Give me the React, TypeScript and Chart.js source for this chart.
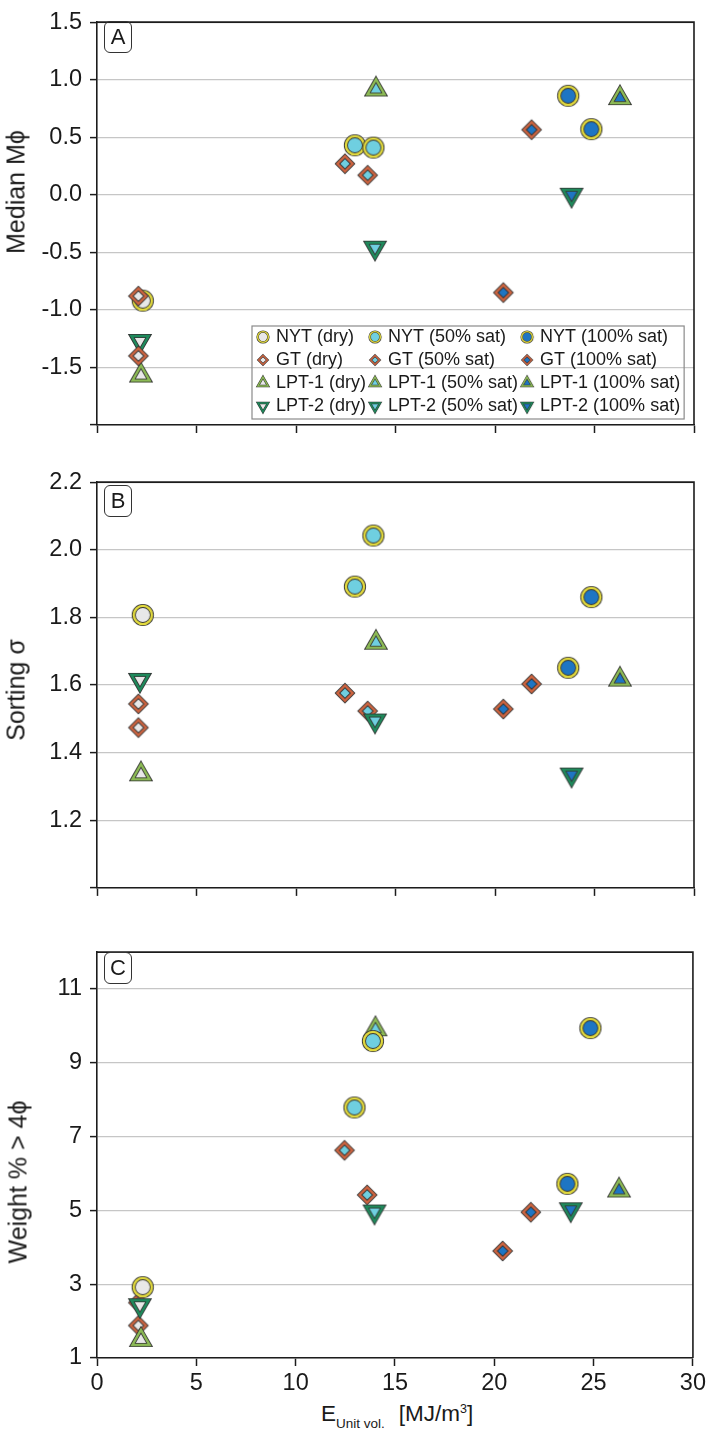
import React, { useEffect, useRef } from 'react';
import { Chart, registerables } from 'chart.js';

Chart.register(...registerables);

const FONT = "'Liberation Sans', Arial, Helvetica, sans-serif";
const TEXT = '#1a1a1a';
const AXIS = '#1c1c1c';
const GRID = '#c6c6c6';
const OUTLINE = '#333333';

// ---------- data ----------
const SERIES_LABELS = [
  'NYT (dry)', 'GT (dry)', 'LPT-1 (dry)', 'LPT-2 (dry)',
  'NYT (50% sat)', 'GT (50% sat)', 'LPT-1 (50% sat)', 'LPT-2 (50% sat)',
  'NYT (100% sat)', 'GT (100% sat)', 'LPT-1 (100% sat)', 'LPT-2 (100% sat)',
];

// E_Unit vol. [MJ/m3] of each sample, per series
const SERIES_X = [
  [2.3], [2.08, 2.08], [2.21], [2.16],
  [12.96, 13.89], [12.46, 13.6], [14.02], [13.97],
  [23.68, 24.84], [20.42, 21.84], [26.28], [23.85],
];

// Panel A: Median Mphi
const MEDIAN_PHI = [
  [-0.92], [-0.88, -1.4], [-1.57], [-1.27],
  [0.43, 0.41], [0.27, 0.17], [0.915], [-0.46],
  [0.86, 0.57], [-0.85, 0.565], [0.84], [0.0],
];

// Panel B: Sorting sigma
const SORTING = [
  [1.807], [1.544, 1.474], [1.336], [1.615],
  [1.891, 2.042], [1.576, 1.523], [1.725], [1.495],
  [1.651, 1.86], [1.529, 1.603], [1.616], [1.335],
];

// Panel C: Weight % > 4phi
const WEIGHT_FINE = [
  [2.92], [2.5, 1.88], [1.49], [2.43],
  [7.79, 9.59], [6.63, 5.42], [9.91], [4.97],
  [5.72, 9.94], [3.9, 4.95], [5.54], [5.03],
];

const X_TICKS = [0, 5, 10, 15, 20, 25, 30];
const X_TICK_LABELS = ['0', '5', '10', '15', '20', '25', '30'];
const MEDIAN_TICKS = [-2, -1.5, -1, -0.5, 0, 0.5, 1, 1.5];
const MEDIAN_TICK_LABELS = ['', '-1.5', '-1.0', '-0.5', '0.0', '0.5', '1.0', '1.5'];
const SORTING_TICKS = [1.0, 1.2, 1.4, 1.6, 1.8, 2.0, 2.2];
const SORTING_TICK_LABELS = ['', '1.2', '1.4', '1.6', '1.8', '2.0', '2.2'];
const WEIGHT_TICKS = [1, 3, 5, 7, 9, 11];
const WEIGHT_TICK_LABELS = ['1', '3', '5', '7', '9', '11'];

// ---------- styles ----------
const SHAPE_BY_MATERIAL = ['circle', 'diamond', 'triangle', 'triangleDown'];
const RING_BY_MATERIAL = ['#e2da3e', '#cd6440', '#8cba55', '#1f8a5c'];
const FILL_BY_STATE = ['#e8e8e8', '#6fcfe0', '#1e75c3'];

const markerCache = new Map<string, HTMLCanvasElement>();
function marker(i: number, s: number): HTMLCanvasElement {
  const key = i + '_' + s;
  const cached = markerCache.get(key);
  if (cached) return cached;
  const size = Math.ceil((32 * s) / 2) * 2;
  const c = document.createElement('canvas');
  c.width = size;
  c.height = size;
  const ctx = c.getContext('2d') as CanvasRenderingContext2D;
  ctx.translate(size / 2, size / 2);
  ctx.scale(s, s);
  ctx.beginPath();
  const shape = SHAPE_BY_MATERIAL[i % 4];
  if (shape === 'circle') {
    ctx.arc(0, 0, 8.4, 0, Math.PI * 2);
  } else if (shape === 'diamond') {
    ctx.moveTo(0, -7);
    ctx.lineTo(7, 0);
    ctx.lineTo(0, 7);
    ctx.lineTo(-7, 0);
  } else if (shape === 'triangle') {
    ctx.moveTo(0, -9.33);
    ctx.lineTo(8, 4.67);
    ctx.lineTo(-8, 4.67);
  } else {
    ctx.moveTo(0, 9.33);
    ctx.lineTo(8, -4.67);
    ctx.lineTo(-8, -4.67);
  }
  ctx.closePath();
  ctx.fillStyle = FILL_BY_STATE[Math.floor(i / 4)];
  ctx.fill();
  ctx.lineJoin = 'miter';
  ctx.strokeStyle = OUTLINE;
  ctx.lineWidth = 3.8;
  ctx.stroke();
  ctx.strokeStyle = RING_BY_MATERIAL[i % 4];
  ctx.lineWidth = 2.2;
  ctx.stroke();
  markerCache.set(key, c);
  return c;
}

const LEGEND_X = 254;
const LEGEND_Y = 323;
const LEGEND_MAX_H = 100;

const framePlugin = {
  id: 'frame',
  afterDraw(chart: any) {
    const { ctx, chartArea } = chart;
    const { left, right, top, bottom } = chartArea;
    ctx.save();
    ctx.strokeStyle = AXIS;
    ctx.lineWidth = 1.6;
    ctx.beginPath();
    ctx.moveTo(left, top);
    ctx.lineTo(right, top);
    ctx.lineTo(right, bottom);
    ctx.stroke();
    ctx.restore();
  },
};

const legendPlacePlugin = {
  id: 'legendPlace',
  afterLayout(chart: any) {
    const lg = chart.legend;
    if (!lg || !lg.options || !lg.options.display) return;
    lg.update(chart.width, LEGEND_MAX_H, { left: 0, right: 0, top: 0, bottom: 0 });
    const w = lg.width;
    const h = lg.height;
    lg.left = LEGEND_X;
    lg.top = LEGEND_Y;
    lg.right = LEGEND_X + w;
    lg.bottom = LEGEND_Y + h;
  },
  beforeDatasetsDraw(chart: any) {
    const lg = chart.legend;
    if (!lg || !lg.options || !lg.options.display) return;
    const ctx = chart.ctx;
    ctx.save();
    ctx.strokeStyle = '#8a8a8a';
    ctx.lineWidth = 1.2;
    ctx.strokeRect(lg.left - 2, lg.top + 3, lg.width - 4, 93);
    ctx.restore();
  },
};

type PanelProps = {
  top: number;
  height: number;
  padTop: number;
  xAxisH: number;
  ys: number[][];
  yMin: number;
  yMax: number;
  yTicks: number[];
  yTickLabels: string[];
  showXLabels: boolean;
  showLegend: boolean;
  order: number[];
};

function Panel(p: PanelProps) {
  const ref = useRef<HTMLCanvasElement>(null);
  useEffect(() => {
    if (!ref.current) return;
    const datasets = SERIES_LABELS.map((label, i) => ({
      label,
      data: SERIES_X[i].map((x, k) => ({ x, y: p.ys[i][k] })),
      pointStyle: marker(i, 1.08),
      pointRadius: 10,
      pointHoverRadius: 10,
      backgroundColor: FILL_BY_STATE[Math.floor(i / 4)],
      borderColor: RING_BY_MATERIAL[i % 4],
      order: p.order[i],
    }));
    const tickFont = { family: FONT, size: 23.5 };
    const chart = new Chart(ref.current, {
      type: 'scatter',
      data: { datasets },
      options: {
        animation: false,
        responsive: false,
        events: [],
        layout: {
          autoPadding: false,
          padding: { top: p.padTop, right: 15, bottom: 0, left: 0 },
        },
        plugins: {
          tooltip: { enabled: false },
          legend: p.showLegend
            ? {
                display: true,
                position: 'chartArea',
                align: 'start',
                labels: {
                  usePointStyle: true,
                  boxWidth: 8,
                  boxHeight: 8,
                  padding: 5,
                  color: TEXT,
                  font: { family: FONT, size: 18 },
                  sort: (a: any, b: any) => a.datasetIndex - b.datasetIndex,
                  generateLabels: (c: any) => {
                    const items = (Chart.defaults.plugins.legend.labels as any).generateLabels(c);
                    return items.map((it: any) => ({ ...it, pointStyle: marker(it.datasetIndex, 0.64) }));
                  },
                },
              }
            : { display: false },
        },
        scales: {
          x: {
            type: 'linear',
            min: 0,
            max: 30,
            afterBuildTicks: (s: any) => {
              s.ticks = X_TICKS.map((v) => ({ value: v }));
            },
            afterFit: (s: any) => {
              s.height = p.xAxisH;
            },
            grid: {
              drawOnChartArea: false,
              drawTicks: true,
              tickLength: 8,
              tickWidth: 1.5,
              tickColor: AXIS,
            },
            border: { display: true, color: AXIS, width: 1.6 },
            ticks: {
              display: p.showXLabels,
              font: tickFont,
              color: TEXT,
              padding: 3,
              maxRotation: 0,
              autoSkip: false,
              callback: (_v: any, idx: number) => X_TICK_LABELS[idx],
            },
          },
          y: {
            type: 'linear',
            min: p.yMin,
            max: p.yMax,
            afterBuildTicks: (s: any) => {
              s.ticks = p.yTicks.map((v) => ({ value: v }));
            },
            afterFit: (s: any) => {
              s.width = 97;
            },
            grid: {
              drawOnChartArea: true,
              color: GRID,
              lineWidth: 1.2,
              drawTicks: true,
              tickLength: 7,
              tickWidth: 1.5,
              tickColor: AXIS,
            },
            border: { display: true, color: AXIS, width: 1.6 },
            ticks: {
              font: tickFont,
              color: TEXT,
              padding: 8,
              autoSkip: false,
              callback: (_v: any, idx: number) => p.yTickLabels[idx],
            },
          },
        },
      } as any,
      plugins: [framePlugin, legendPlacePlugin],
    });
    return () => chart.destroy();
  }, []);
  return (
    <canvas
      ref={ref}
      width={709}
      height={p.height}
      style={{ position: 'absolute', left: 0, top: p.top, width: 709, height: p.height, display: 'block' }}
    />
  );
}

const ORDER_AB = [0, -1, 0, 0, 0, 0, 0, -1, 0, 0, 0, 0];
const ORDER_C = [0, 1, 0, 0, 0, 0, 0, -1, 0, 0, 0, 0];

function YTitle({ x, y, text }: { x: number; y: number; text: string }) {
  return (
    <div
      style={{
        position: 'absolute',
        left: x,
        top: y,
        transform: 'translate(-50%, -50%) rotate(-90deg)',
        fontSize: 25,
        lineHeight: 1,
        whiteSpace: 'nowrap',
        color: TEXT,
      }}
    >
      {text}
    </div>
  );
}

function PanelTag({ top, text }: { top: number; text: string }) {
  return (
    <div
      style={{
        position: 'absolute',
        left: 104,
        top,
        width: 26,
        height: 30,
        border: '1px solid #333',
        borderRadius: 6,
        fontSize: 22,
        lineHeight: '30px',
        textAlign: 'center',
        color: TEXT,
        background: 'transparent',
      }}
    >
      {text}
    </div>
  );
}

export default function App() {
  return (
    <div
      style={{
        position: 'absolute',
        left: 0,
        top: 0,
        width: 709,
        height: 1436,
        background: '#ffffff',
        fontFamily: FONT,
        overflow: 'hidden',
      }}
    >
      <Panel
        top={0}
        height={450}
        padTop={13}
        xAxisH={25}
        ys={MEDIAN_PHI}
        yMin={-2}
        yMax={1.5}
        yTicks={MEDIAN_TICKS}
        yTickLabels={MEDIAN_TICK_LABELS}
        showXLabels={false}
        showLegend={true}
        order={ORDER_AB}
      />
      <Panel
        top={460}
        height={450}
        padTop={19}
        xAxisH={19}
        ys={SORTING}
        yMin={1.0}
        yMax={2.2}
        yTicks={SORTING_TICKS}
        yTickLabels={SORTING_TICK_LABELS}
        showXLabels={false}
        showLegend={false}
        order={ORDER_AB}
      />
      <Panel
        top={930}
        height={468}
        padTop={15}
        xAxisH={40}
        ys={WEIGHT_FINE}
        yMin={1}
        yMax={12}
        yTicks={WEIGHT_TICKS}
        yTickLabels={WEIGHT_TICK_LABELS}
        showXLabels={true}
        showLegend={false}
        order={ORDER_C}
      />
      <YTitle x={16} y={192} text="Median Mϕ" />
      <YTitle x={16} y={690} text="Sorting σ" />
      <YTitle x={18} y={1182} text="Weight % > 4ϕ" />
      <PanelTag top={21} text="A" />
      <PanelTag top={485} text="B" />
      <PanelTag top={952} text="C" />
      <div
        style={{
          position: 'absolute',
          left: 321,
          top: 1403,
          height: 22,
          fontSize: 22.5,
          lineHeight: '22px',
          whiteSpace: 'nowrap',
          color: TEXT,
        }}
      >
        <span>E</span>
        <span style={{ fontSize: 13.5, position: 'relative', top: 7, lineHeight: 0 }}>Unit vol.</span>
        <span style={{ marginLeft: 14 }}>
          [MJ/m
          <span style={{ fontSize: 12.5, position: 'relative', top: -8, lineHeight: 0 }}>3</span>]
        </span>
      </div>
    </div>
  );
}
